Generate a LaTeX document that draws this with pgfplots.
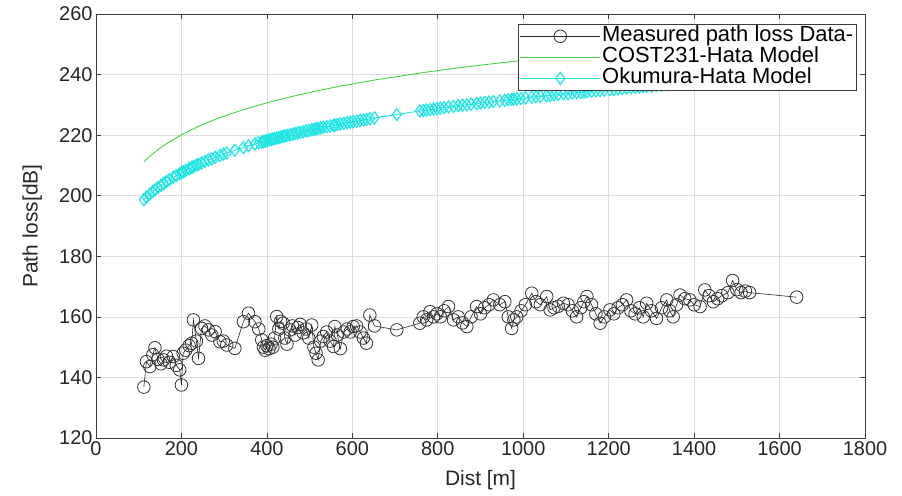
\documentclass[border=0pt]{standalone}
\usepackage{pgfplots}
\usepackage{pgfplotstable}
\pgfplotsset{compat=1.18}
\usepackage{fontspec}
\setmainfont{Liberation Sans}
\usetikzlibrary{calc}
\definecolor{mgreen}{RGB}{70,210,70}
\definecolor{mcyan}{RGB}{30,228,228}
\definecolor{axgray}{RGB}{60,60,60}

\pgfplotstableread{
x meas oku
112 136.8 198.7
118 145.2 199.5
126 143.6 200.5
133 147.5 201.4
138 149.8 201.9
145 146.0 202.7
152 144.5 203.4
158 145.8 204.0
165 147.0 204.7
172 145.0 205.3
181 146.9 206.1
188 144.0 206.6
196 142.5 207.3
200 137.5 207.6
204 148.0 207.9
210 149.0 208.3
218 150.5 208.9
224 151.3 209.3
228 159.0 209.6
235 152.0 210.1
240 146.3 210.4
247 156.2 210.8
255 157.0 211.3
263 155.7 211.8
271 154.0 212.2
279 155.1 212.7
290 151.8 213.3
298 152.0 213.7
306 150.7 214.1
325 149.6 215.0
345 158.4 215.9
357 161.2 216.5
372 158.4 217.1
381 156.0 217.5
388 152.4 217.7
392 150.0 217.9
396 149.0 218.0
400 150.5 218.2
405 149.5 218.4
410 151.0 218.6
414 150.0 218.7
418 153.0 218.9
423 160.1 219.0
428 156.0 219.2
432 158.5 219.4
438 157.9 219.6
442 153.0 219.7
447 151.0 219.9
454 155.7 220.1
460 157.0 220.3
466 154.0 220.5
472 156.5 220.7
478 157.5 220.9
485 154.7 221.1
492 156.0 221.4
498 153.0 221.5
505 157.3 221.8
510 150.0 221.9
515 148.0 222.1
520 145.8 222.2
526 152.0 222.4
532 153.5 222.6
540 155.0 222.8
548 152.0 223.0
556 150.2 223.2
559 156.8 223.3
565 154.0 223.5
572 149.5 223.7
580 155.0 223.9
588 156.0 224.1
595 155.0 224.3
602 156.8 224.4
610 157.0 224.6
618 155.0 224.8
626 153.0 225.0
633 151.3 225.2
641 160.6 225.4
652 157.0 225.7
704 155.7 226.8
758 157.9 228.0
766 160.0 228.1
774 159.0 228.3
782 161.7 228.4
790 160.0 228.6
798 161.0 228.8
806 160.0 228.9
815 162.0 229.1
825 163.4 229.3
837 159.0 229.5
848 160.0 229.7
858 158.0 229.9
868 156.8 230.0
878 160.0 230.2
891 163.4 230.4
900 161.0 230.6
910 163.0 230.8
920 164.0 230.9
930 165.6 231.1
945 164.0 231.3
957 165.0 231.5
965 160.0 231.7
973 156.2 231.8
978 159.0 231.9
985 160.0 232.0
995 162.0 232.1
1005 164.0 232.3
1020 167.8 232.5
1030 165.0 232.7
1040 164.0 232.8
1055 166.7 233.0
1063 162.3 233.1
1072 163.0 233.3
1082 163.5 233.4
1094 164.5 233.6
1105 164.0 233.7
1115 162.0 233.9
1125 160.0 234.0
1135 163.0 234.1
1142 165.0 234.2
1149 166.7 234.3
1160 164.0 234.5
1170 161.0 234.6
1180 157.9 234.7
1190 160.0 234.9
1203 162.3 235.0
1212 161.0 235.1
1222 163.0 235.3
1232 164.0 235.4
1242 165.6 235.5
1252 162.0 235.6
1262 161.0 235.8
1272 163.0 235.9
1281 160.0 236.0
1289 164.5 236.1
1300 162.0 236.2
1312 159.5 236.4
1324 163.0 236.5
1336 165.6 236.6
1343 162.0 236.7
1351 160.0 236.8
1359 164.0 236.9
1367 167.2 237.0
1378 166.0 237.1
1390 165.6 237.2
1400 164.0 237.3
1414 163.4 237.5
1425 168.9 237.6
1435 167.0 237.7
1445 165.0 237.8
1455 166.0 237.9
1465 167.0 238.0
1479 168.0 238.2
1490 172.0 238.3
1500 169.0 238.4
1510 168.0 238.5
1520 168.5 238.6
1530 168.0 238.7
1640 166.5 239.8
}\meastable

\pgfplotstableread{
x cost
112 211.2
126 213.0
145 215.2
165 217.2
200 220.1
240 222.9
290 225.8
345 228.4
400 230.7
454 232.6
510 234.4
580 236.4
652 238.2
704 239.3
758 240.5
825 241.8
900 243.1
1005 244.8
1105 246.2
1203 247.5
1312 248.9
1414 250.0
1530 251.2
1640 252.3
}\costtable

\begin{document}
\begin{tikzpicture}
\begin{axis}[
  scale only axis,
  width=769bp, height=424bp,
  xmin=0, xmax=1800, ymin=120, ymax=260,
  xtick={0,200,...,1800}, ytick={120,140,...,260},
  grid=major,
  major grid style={color=black!13, line width=0.6bp},
  axis line style={color=axgray, line width=0.7bp},
  tick style={color=axgray, line width=0.7bp},
  tick align=inside, major tick length=5bp,
  /pgf/number format/assume math mode=true,
  /pgf/number format/1000 sep={},
  ticklabel style={font=\fontsize{20}{20}\selectfont, text=black!85},
  xlabel={Dist [m]}, ylabel={Path loss[dB]},
  label style={font=\fontsize{21}{21}\selectfont, text=black!85},
  xlabel style={at={(axis description cs:0.5,-0.099)}, anchor=center},
  ylabel style={at={(axis description cs:-0.083,0.5)}, anchor=center},
  legend cell align=left,
  legend image code/.code={\draw[mark repeat=2,mark phase=2] plot coordinates {(0bp,0bp) (40bp,0bp) (80bp,0bp)};},
  legend style={at={(rel axis cs:1,1)}, anchor=north east, xshift=-8bp, yshift=-10bp,
    draw=axgray, line width=0.6bp, fill=white,
    font=\fontsize{22}{22}\selectfont,
    nodes={inner sep=1.5bp, text height=14bp, text depth=4bp},
    inner xsep=2bp, inner ysep=1.5bp},
]
\addplot[color=black!85, line width=0.6bp, mark=o, mark size=6.3bp, mark options={line width=0.8bp, color=black!80}] table[x=x, y=meas] {\meastable};
\addlegendentry{Measured path loss Data-}
\addplot[color=mgreen, line width=0.9bp, mark=none] table[x=x, y=cost] {\costtable};
\addlegendentry{COST231-Hata Model}
\addplot[color=mcyan, line width=0.9bp, mark=diamond, mark size=6bp, mark options={line width=1.2bp}] table[x=x, y=oku] {\meastable};
\addlegendentry{Okumura-Hata Model}
\end{axis}
\pgfresetboundingbox
\path[use as bounding box] ($(current axis.south west)+(-96bp,-58bp)$) rectangle ($(current axis.north east)+(37bp,14bp)$);
\end{tikzpicture}
\end{document}
